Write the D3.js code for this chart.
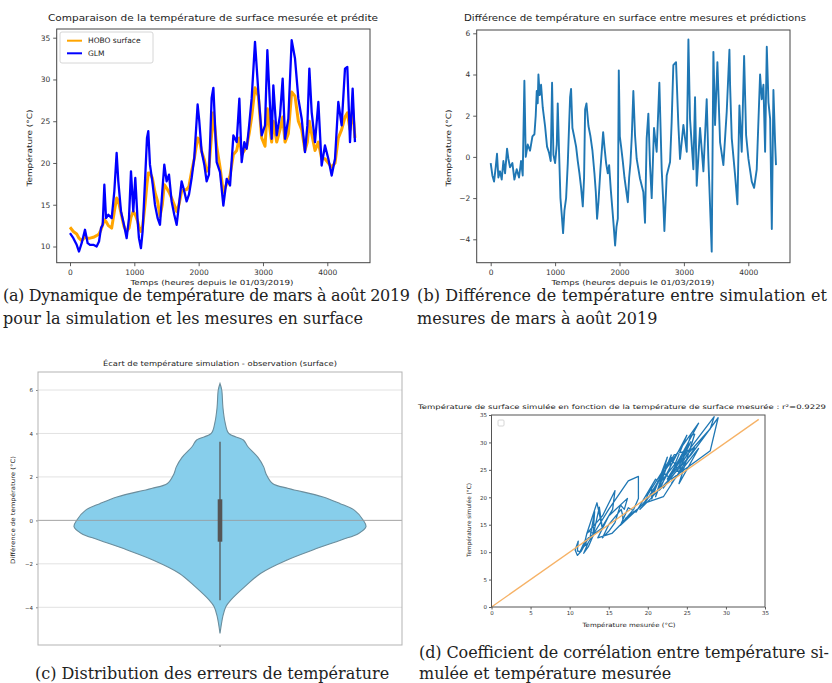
<!DOCTYPE html>
<html><head><meta charset="utf-8">
<script src="https://cdn.jsdelivr.net/npm/d3@7"></script>
<style>body{margin:0;background:#fff}</style>
</head><body><svg id="fig" width="832" height="683"></svg>
<script>
// Hourly surface temperature, sampled at notable points (hours since 01/03/2019)
const hours = [
  0, 52, 104, 140, 181, 233, 275, 311, 363, 414,
  451, 482, 508, 534, 560, 596, 648, 689, 725, 751,
  793, 839, 881, 917, 948, 984, 1015, 1052, 1072, 1103,
  1129, 1166, 1197, 1217, 1243, 1280, 1321, 1362, 1399, 1435,
  1466, 1502, 1539, 1580, 1621, 1658, 1694, 1735, 1777, 1813,
  1849, 1891, 1932, 1984, 2010, 2046, 2088, 2124, 2160, 2202,
  2229, 2280, 2332, 2384, 2436, 2488, 2540, 2591, 2633, 2669,
  2710, 2747, 2785, 2824, 2876, 2928, 2980, 3032, 3068, 3109,
  3135, 3161, 3213, 3265, 3306, 3343, 3394, 3446, 3498, 3550,
  3602, 3653, 3690, 3721, 3757, 3809, 3861, 3912, 3964, 4016,
  4068, 4120, 4171, 4223, 4275, 4311, 4353, 4394, 4430
];
// GLM simulated surface temperature (°C)
const glmTemp = [
  11.6, 11.0, 10.2, 9.4, 10.4, 12.0, 10.4, 10.2, 10.2, 10.0,
  10.6, 12.2, 12.6, 17.4, 13.4, 13.8, 13.4, 16.6, 21.2, 17.8,
  14.2, 12.6, 11.0, 13.4, 19.0, 14.2, 18.2, 13.0, 11.0, 9.8,
  11.8, 17.8, 23.0, 23.8, 19.8, 17.8, 15.0, 13.4, 12.6, 16.6,
  19.8, 17.8, 18.6, 15.4, 13.8, 12.6, 15.0, 17.8, 16.6, 15.4,
  16.2, 18.2, 20.6, 27.0, 25.0, 21.4, 19.8, 17.8, 18.6, 27.8,
  29.0, 20.1, 18.9, 14.9, 18.1, 17.3, 23.3, 22.5, 27.7, 20.1,
  22.5, 21.7, 24.5, 27.7, 34.5, 28.5, 23.3, 24.5, 33.5, 26.9,
  22.9, 29.3, 23.3, 25.7, 30.1, 22.9, 25.3, 34.7, 32.5, 27.7,
  25.3, 21.3, 24.5, 31.3, 26.1, 22.5, 27.3, 19.7, 22.1, 20.5,
  18.5, 20.5, 27.3, 24.5, 31.3, 31.5, 22.5, 28.9, 22.5
];
// HOBO measured surface temperature (°C)
const hoboTemp = [
  12.3, 11.8, 11.5, 11.0, 10.7, 11.1, 11.0, 11.0, 11.1, 11.3,
  11.5, 12.0, 12.6, 13.2, 13.0, 12.5, 12.2, 14.2, 15.8, 15.5,
  14.0, 12.4, 11.8, 12.2, 13.5, 14.2, 13.8, 13.0, 12.4, 11.8,
  12.4, 15.0, 17.5, 18.8, 18.8, 18.2, 16.5, 15.4, 13.6, 15.0,
  17.4, 17.0, 16.5, 15.8, 15.0, 14.2, 15.0, 16.6, 16.8, 16.8,
  17.2, 19.0, 20.5, 23.0, 22.8, 21.4, 20.4, 19.0, 19.5, 23.4,
  26.0, 22.0, 19.5, 16.5, 17.5, 18.5, 21.0, 21.5, 23.0, 21.0,
  21.5, 22.0, 23.5, 25.5, 29.0, 28.0, 23.0, 22.0, 26.5, 24.0,
  22.5, 25.0, 22.5, 24.0, 25.5, 22.5, 23.5, 28.5, 28.0, 25.0,
  24.0, 21.5, 22.5, 25.0, 23.5, 21.5, 22.5, 20.5, 20.5, 20.0,
  19.5, 20.0, 23.0, 24.0, 25.5, 26.0, 24.0, 26.5, 23.0
];
// Simulated minus measured temperature (°C)
const diffHours = [
  0, 26, 52, 78, 98, 119, 145, 171, 197, 223, 254, 275, 300, 337, 368, 404, 440, 471, 497, 523,
  544, 575, 611, 648, 679, 699, 715, 730, 741, 761, 782, 808, 844, 875, 906, 932, 953, 974, 1000, 1026,
  1041, 1062, 1083, 1103, 1124, 1145, 1171, 1197, 1217, 1233, 1248, 1269, 1295, 1326, 1352, 1378, 1404, 1430, 1450, 1466,
  1487, 1518, 1549, 1580, 1611, 1632, 1652, 1673, 1704, 1725, 1746, 1766, 1792, 1818, 1839, 1865, 1891, 1911, 1932, 1953,
  1974, 1989, 2005, 2025, 2051, 2077, 2103, 2129, 2150, 2170, 2191, 2215, 2241, 2267, 2318, 2370, 2396, 2422, 2448, 2474,
  2500, 2536, 2577, 2619, 2655, 2681, 2697, 2733, 2785, 2810, 2836, 2878, 2914, 2940, 2992, 3044, 3070, 3095, 3147, 3173,
  3199, 3251, 3303, 3354, 3380, 3432, 3458, 3484, 3520, 3562, 3613, 3665, 3707, 3717, 3743, 3795, 3831, 3862, 3898, 3935,
  3966, 4002, 4054, 4090, 4131, 4183, 4209, 4235, 4261, 4287, 4313, 4339, 4365, 4390, 4416, 4430
];
const diffTemp = [
  -0.3, -0.9, -1.2, -0.5, 0.15, -1.0, -0.7, -1.1, -0.2, -0.8, 0.4, -0.1, -0.5, -0.3, -1.1, -0.6, -1.0, -0.2, -0.9, 3.7,
  0.0, 0.6, 0.3, 1.0, 1.1, 2.0, 3.2, 2.6, 4.0, 3.0, 3.5, 2.4, 1.5, 0.5, 0.2, -0.2, 3.6, 0.1, -0.3, 0.6,
  2.6, 0.2, -2.0, -2.8, -3.7, -2.6, -2.0, -0.3, 1.5, 2.9, 3.3, 1.4, 1.0, 0.5, -0.2, -0.8, -1.5, -2.4, -1.0, 2.3,
  2.6, 1.5, 1.0, 0.3, -0.8, -1.7, -3.0, -2.2, -0.6, 0.3, 1.2, 0.5, -0.3, -0.8, -0.4, -1.6, -2.6, -3.4, -4.3, -3.4,
  -3.0, 4.2, 1.0, 0.5, -0.2, -1.0, -1.6, -2.2, -1.0, -0.3, 1.0, 3.2, 1.05, -0.1, -1.05, -1.7, -3.2, 0.9, 2.1, -0.4,
  -2.0, 1.4, 0.25, 3.6, -0.6, -2.3, -3.6, -0.9, -0.25, 1.7, 4.45, 4.6, 1.55, -0.1, 1.55, 0.25, 5.7, 1.85, -0.6, 2.9,
  -1.4, 1.4, -0.7, 2.8, -0.1, -4.6, 5.1, 1.55, 4.6, 0.7, -0.4, 2.2, 5.2, 3.5, 0.9, -0.9, -2.3, 2.5, 0.25, 4.9,
  1.05, -0.1, -1.2, -1.5, -0.6, 4.0, 2.8, 3.5, 0.25, 5.35, 2.65, 1.85, -3.5, 3.25, 0.7, -0.4
];
// Violin outline: error level (°C) and relative density width
const violinTemp = [6.3, 6.0, 5.2, 4.5, 4.0, 3.7, 3.4, 2.9, 2.45, 2.15, 1.7, 1.47, 1.09, 0.78, 0.47, 0.02,
  -0.29, -0.6, -0.9, -1.35, -1.82, -2.43, -3.05, -3.66, -3.97, -4.4, -5.2];
const violinDensity = [0, 0.012, 0.02, 0.035, 0.06, 0.16, 0.19, 0.26, 0.30, 0.315, 0.36, 0.47, 0.70, 0.82, 0.92, 0.98,
  1.0, 0.95, 0.83, 0.64, 0.46, 0.28, 0.17, 0.075, 0.04, 0.02, 0];
const boxQuartiles = [-0.98, 0.97];
const boxWhiskers = [-3.67, 3.62];
const identityLine = [0, 34.2];

const hourTicks = [0, 1000, 2000, 3000, 4000];
const tempTicksA = [10, 15, 20, 25, 30, 35];
const diffTicksB = [-4, -2, 0, 2, 4, 6];
const diffTicksC = [-4, -2, 0, 2, 4, 6];
const tempTicksD = [0, 5, 10, 15, 20, 25, 30, 35];

const svg = d3.select("#fig").style("font-family", "'DejaVu Sans', sans-serif");
const fmt = d3.format("d");

function axisStyle(sel, size, color) {
  sel.select(".domain").remove();
  sel.selectAll(".tick line").attr("stroke", color).attr("stroke-width", 0.8);
  sel.selectAll(".tick text").attr("fill", "#333").style("font-size", size + "px")
    .style("font-family", "'DejaVu Sans', sans-serif");
}
function frame(x0, x1, y0, y1, color) {
  svg.append("rect").attr("x", x0).attr("y", y0).attr("width", x1 - x0).attr("height", y1 - y0)
    .attr("fill", "none").attr("stroke", color).attr("stroke-width", 1);
}
function label(x, y, text, size, opts = {}) {
  const t = svg.append("text").attr("x", x).attr("y", y).attr("text-anchor", opts.anchor || "middle")
    .attr("fill", opts.fill || "#222").style("font-size", size + "px").text(text);
  if (opts.rotate) t.attr("transform", `rotate(-90,${x},${y})`);
  if (opts.len) t.attr("textLength", opts.len).attr("lengthAdjust", opts.adjust || "spacingAndGlyphs");
  if (opts.serif) t.style("font-family", "'DejaVu Serif', 'Liberation Serif', serif");
  return t;
}

/* ---------- (a) measured vs simulated ---------- */
const A = {l: 56.7, r: 370, t: 29, b: 262.7};
const xA = d3.scaleLinear().domain([0, 4000]).range([70, 327.3]);
const yA = d3.scaleLinear().domain([10, 35]).range([246.5, 37.7]);
const series = hours.map((h, i) => ({h, glm: glmTemp[i], hobo: hoboTemp[i]}));
svg.append("path").datum(series).attr("fill", "none").attr("stroke", "#ffa500").attr("stroke-width", 3)
  .attr("stroke-linejoin", "round")
  .attr("d", d3.line().x(d => xA(d.h)).y(d => yA(d.hobo)));
svg.append("path").datum(series).attr("fill", "none").attr("stroke", "#0000ff").attr("stroke-width", 2.3)
  .attr("stroke-linejoin", "round")
  .attr("d", d3.line().x(d => xA(d.h)).y(d => yA(d.glm)));
svg.append("g").attr("transform", `translate(0,${A.b})`)
  .call(d3.axisBottom(xA).tickValues(hourTicks).tickFormat(fmt).tickSize(3.5).tickPadding(3))
  .call(s => axisStyle(s, 7.5, "#333"));
svg.append("g").attr("transform", `translate(${A.l},0)`)
  .call(d3.axisLeft(yA).tickValues(tempTicksA).tickFormat(fmt).tickSize(3.5).tickPadding(3))
  .call(s => axisStyle(s, 7.5, "#333"));
frame(A.l, A.r, A.t, A.b, "#444");
label(213, 21, "Comparaison de la température de surface mesurée et prédite", 9.5, {len: 330});
label(212, 285, "Temps (heures depuis le 01/03/2019)", 7, {len: 163});
label(32, 148, "Température (°C)", 7.2, {rotate: true, len: 77});
// legend
svg.append("rect").attr("x", 60).attr("y", 32).attr("width", 93).attr("height", 31).attr("rx", 2)
  .attr("fill", "#fff").attr("fill-opacity", 0.8).attr("stroke", "#ccc").attr("stroke-width", 0.8);
[["HOBO surface", "#ffa500", 40.7], ["GLM", "#0000ff", 53.3]].forEach(([name, c, y]) => {
  svg.append("line").attr("x1", 67).attr("x2", 82).attr("y1", y).attr("y2", y).attr("stroke", c).attr("stroke-width", 2);
  label(88, y + 2.7, name, 7.5, {anchor: "start"});
});

/* ---------- (b) difference series ---------- */
const B = {l: 476.7, r: 790, t: 30, b: 262.7};
const xB = d3.scaleLinear().domain([0, 4000]).range([490.7, 748.3]);
const yB = d3.scaleLinear().domain([-4, 6]).range([239.3, 33.3]);
const diffSeries = diffHours.map((h, i) => ({h, v: diffTemp[i]}));
svg.append("path").datum(diffSeries).attr("fill", "none").attr("stroke", "#1f77b4").attr("stroke-width", 1.9)
  .attr("stroke-linejoin", "round")
  .attr("d", d3.line().x(d => xB(d.h)).y(d => yB(d.v)));
svg.append("g").attr("transform", `translate(0,${B.b})`)
  .call(d3.axisBottom(xB).tickValues(hourTicks).tickFormat(fmt).tickSize(3.5).tickPadding(3))
  .call(s => axisStyle(s, 7.5, "#333"));
svg.append("g").attr("transform", `translate(${B.l},0)`)
  .call(d3.axisLeft(yB).tickValues(diffTicksB).tickFormat(fmt).tickSize(3.5).tickPadding(3))
  .call(s => axisStyle(s, 7.5, "#333"));
frame(B.l, B.r, B.t, B.b, "#444");
label(635, 21, "Différence de température en surface entre mesures et prédictions", 9.5, {len: 342});
label(633, 285, "Temps (heures depuis le 01/03/2019)", 7, {len: 163});
label(451, 148, "Température (°C)", 7.2, {rotate: true, len: 77});

/* ---------- (c) violin of errors ---------- */
const C = {l: 38, r: 402, t: 372, b: 645};
const cx = 220;
const yC = d3.scaleLinear().domain([-4, 6]).range([607.3, 390]);
const wC = d3.scaleLinear().domain([0, 1]).range([0, 146]);
diffTicksC.forEach(v => {
  svg.append("line").attr("x1", C.l).attr("x2", C.r).attr("y1", yC(v)).attr("y2", yC(v))
    .attr("stroke", "#e2e2e2").attr("stroke-width", 1);
});
const violin = violinTemp.map((t, i) => ({t, w: violinDensity[i]}));
svg.append("path").datum(violin).attr("fill", "#87ceeb").attr("stroke", "#6b8d9c").attr("stroke-width", 1.1)
  .attr("d", d3.area().curve(d3.curveCatmullRom).y(d => yC(d.t))
    .x0(d => cx - wC(d.w)).x1(d => cx + wC(d.w)));
svg.append("line").attr("x1", C.l).attr("x2", C.r).attr("y1", yC(0)).attr("y2", yC(0))
  .attr("stroke", "#9a9a9a").attr("stroke-width", 1).attr("stroke-opacity", 0.8);
svg.append("line").attr("x1", cx).attr("x2", cx).attr("y1", yC(boxWhiskers[0])).attr("y2", yC(boxWhiskers[1]))
  .attr("stroke", "#555").attr("stroke-width", 1.3);
svg.append("rect").attr("x", cx - 2.3).attr("width", 4.6)
  .attr("y", yC(boxQuartiles[1])).attr("height", yC(boxQuartiles[0]) - yC(boxQuartiles[1]))
  .attr("fill", "#555");
svg.append("g").attr("transform", `translate(${C.l},0)`)
  .call(d3.axisLeft(yC).tickValues(diffTicksC).tickFormat(fmt).tickSize(2).tickPadding(3))
  .call(s => axisStyle(s, 5.5, "#666"));
svg.append("line").attr("x1", cx).attr("x2", cx).attr("y1", C.b).attr("y2", C.b + 2).attr("stroke", "#666");
frame(C.l, C.r, C.t, C.b, "#b3b3b3");
label(220, 366, "Écart de température simulation - observation (surface)", 7.2, {len: 234});
label(15, 510, "Différence de température (°C)", 6, {rotate: true, len: 108});

/* ---------- (d) simulated vs measured ---------- */
const D = {l: 491.5, r: 765, t: 415, b: 607};
const xD = d3.scaleLinear().domain([0, 35]).range([D.l, D.r]);
const yD = d3.scaleLinear().domain([0, 35]).range([D.b, D.t]);
svg.append("path").datum(series).attr("fill", "none").attr("stroke", "#1f77b4").attr("stroke-width", 1.3)
  .attr("stroke-linejoin", "round")
  .attr("d", d3.line().x(d => xD(d.hobo)).y(d => yD(d.glm)));
svg.append("line").attr("x1", xD(identityLine[0])).attr("y1", yD(identityLine[0]))
  .attr("x2", xD(identityLine[1])).attr("y2", yD(identityLine[1]))
  .attr("stroke", "#f6b266").attr("stroke-width", 1.3);
svg.append("g").attr("transform", `translate(0,${D.b})`)
  .call(d3.axisBottom(xD).tickValues(tempTicksD).tickFormat(fmt).tickSize(2.5).tickPadding(2))
  .call(s => axisStyle(s, 5.5, "#333"));
svg.append("g").attr("transform", `translate(${D.l},0)`)
  .call(d3.axisLeft(yD).tickValues(tempTicksD).tickFormat(fmt).tickSize(2.5).tickPadding(2))
  .call(s => axisStyle(s, 5.5, "#333"));
frame(D.l, D.r, D.t, D.b, "#555");
svg.append("rect").attr("x", 498).attr("y", 420).attr("width", 6).attr("height", 6).attr("rx", 1)
  .attr("fill", "#fff").attr("stroke", "#ccc").attr("stroke-width", 0.8);
label(622, 409, "Température de surface simulée en fonction de la température de surface mesurée : r²=0.9229", 6.2, {len: 408});
label(629, 627, "Température mesurée (°C)", 5.8, {len: 93});
label(471, 520, "Température simulée (°C)", 5.8, {rotate: true, len: 74});

/* ---------- captions ---------- */
const cap = {serif: true, anchor: "start"};
const just = {...cap, adjust: "spacing"};
label(3, 301, "(a) Dynamique de température de mars à août 2019", 16, {...just, len: 407});
label(3, 324, "pour la simulation et les mesures en surface", 16, cap);
label(417, 301, "(b) Différence de température entre simulation et", 16, {...just, len: 410});
label(417, 324, "mesures de mars à août 2019", 16, cap);
label(35, 679, "(c) Distribution des erreurs de température", 16, cap);
label(419, 658, "(d) Coefficient de corrélation entre température si-", 16, {...just, len: 410});
label(419, 679, "mulée et température mesurée", 16, cap);
</script></body></html>
